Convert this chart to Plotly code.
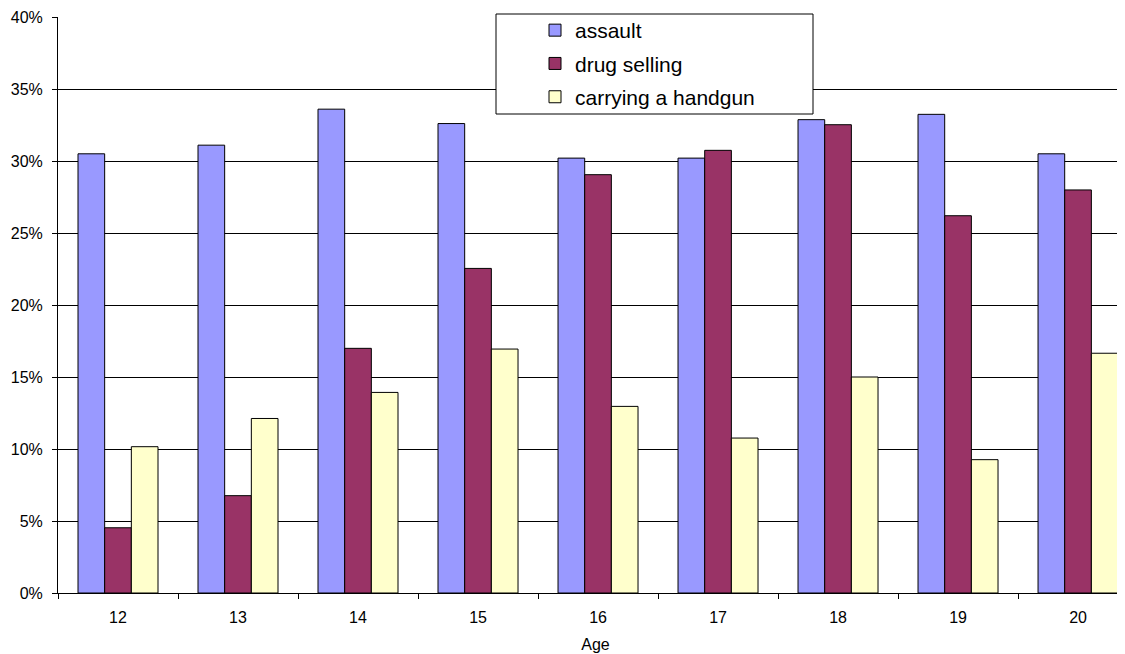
import plotly.graph_objects as go

ages = ["12", "13", "14", "15", "16", "17", "18", "19", "20"]
assault = [30.5, 31.1, 33.6, 32.6, 30.2, 30.2, 32.87, 33.24, 30.5]
drug_selling = [4.53, 6.76, 16.99, 22.54, 29.05, 30.74, 32.52, 26.2, 27.99]
handgun = [10.16, 12.12, 13.93, 16.94, 12.96, 10.76, 15.0, 9.26, 16.65]

series = [
    ("assault", assault, "#9999FF"),
    ("drug selling", drug_selling, "#993366"),
    ("carrying a handgun", handgun, "#FFFFCC"),
]

fig = go.Figure()
for i, (name, vals, col) in enumerate(series):
    fig.add_trace(go.Bar(
        x=ages, y=vals, name=name, legendgroup=str(i),
        marker=dict(color=col, line=dict(color="#000000", width=1)),
    ))

# page has an 8px body margin; figure coordinates below are screen - 8
W, H = 1125, 654
L, R, T, B = 50, 0, 9, 69
pw = W - L - R
ph = H - T - B

def px(x):
    return (x - L) / pw

def py(y):
    return (H - B - y) / ph

fig.add_shape(type="rect", xref="paper", yref="paper",
              x0=px(488), x1=px(805), y0=py(106), y1=py(6),
              line=dict(color="#000000", width=1), fillcolor="white", layer="above")

fig.update_layout(
    width=W, height=H,
    margin=dict(l=L, r=R, t=T, b=B, pad=0),
    paper_bgcolor="white", plot_bgcolor="white",
    font=dict(family="Arial, Liberation Sans, sans-serif", color="#000000", size=16),
    barmode="group", bargap=1/3, bargroupgap=0,
    showlegend=True,
    legend=dict(x=px(527), y=py(2), xanchor="left", yanchor="top",
                bgcolor="rgba(0,0,0,0)", borderwidth=0,
                font=dict(size=21), traceorder="grouped", tracegroupgap=3),
    xaxis=dict(
        range=[-0.5, 8.458], showgrid=False,
        showline=True, linecolor="#000000", linewidth=1,
        ticks="outside", tickson="boundaries", ticklen=5, tickcolor="#000000",
        ticklabelstandoff=10,
        tickfont=dict(size=16),
        title=dict(text="Age", font=dict(size=16), standoff=13),
    ),
    yaxis=dict(
        range=[0, 40], dtick=5, ticksuffix="%",
        showgrid=True, gridcolor="#000000", gridwidth=1,
        showline=True, linecolor="#000000", linewidth=1,
        ticks="outside", ticklen=5, tickcolor="#000000",
        ticklabelstandoff=6,
        tickfont=dict(size=16),
        zeroline=False,
    ),
)

fig.write_html("out.html")
